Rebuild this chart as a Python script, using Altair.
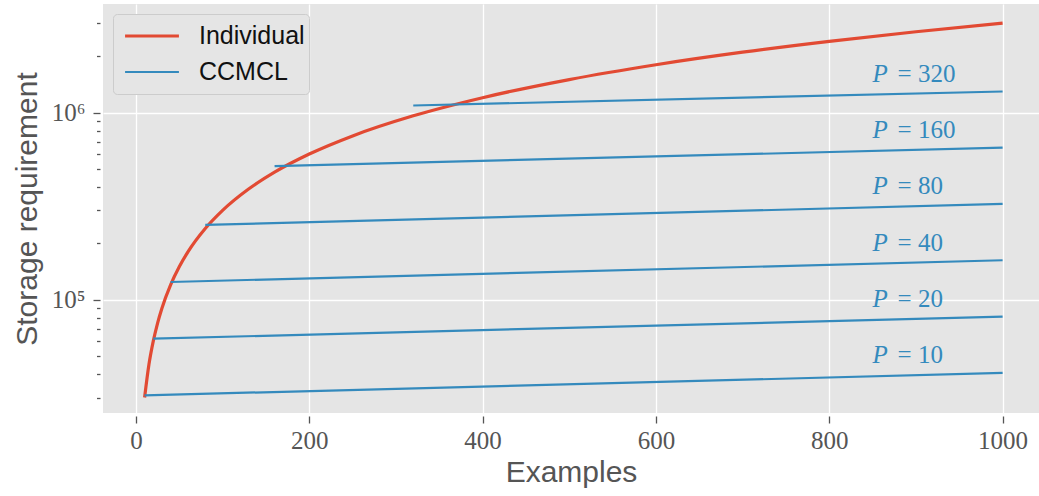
import altair as alt
import pandas as pd

# Individual storage requirement
ind_x = [10, 15, 20, 25, 30, 40, 50, 60, 80, 100, 130, 160, 200, 250, 320, 400, 500, 600, 700, 800, 900, 1000]
ind_y = [30000, 45000, 60000, 75000, 90000, 120000, 150000, 180000, 240000, 300000, 390000,
         480000, 600000, 750000, 960000, 1200000, 1500000, 1800000, 2100000, 2400000, 2700000, 3000000]

# CCMCL lines, one per P
p_values = [10, 20, 40, 80, 160, 320]
ccmcl_start_y = [30800, 61900, 124300, 251000, 517000, 1090000]
ccmcl_end_x = 1000
ccmcl_end_y = [40600, 81200, 162400, 324800, 649000, 1295000]
label_x = 850
label_y = [45600, 91200, 182500, 365000, 730000, 1460000]

series_names = ["Individual", "CCMCL"]
series_colors = ["#E24A33", "#348ABD"]

y_major = [100000, 1000000]
y_minor = [30000, 40000, 50000, 60000, 70000, 80000, 90000,
           200000, 300000, 400000, 500000, 600000, 700000, 800000, 900000,
           2000000, 3000000]
x_ticks = [0, 200, 400, 600, 800, 1000]

rows = []
for x, y in zip(ind_x, ind_y):
    rows.append({"x": x, "y": y, "series": "Individual", "grp": "ind"})
for p, y0, y1 in zip(p_values, ccmcl_start_y, ccmcl_end_y):
    rows.append({"x": p, "y": y0, "series": "CCMCL", "grp": f"P{p}"})
    rows.append({"x": ccmcl_end_x, "y": y1, "series": "CCMCL", "grp": f"P{p}"})
df = pd.DataFrame(rows)

labels = pd.DataFrame({
    "x": [label_x] * len(p_values),
    "y": label_y,
    "rest": [f"= {p}" for p in p_values],
})

xscale = alt.Scale(domain=[-38, 1042], nice=False, zero=False)
yscale = alt.Scale(type="log", domain=[24800, 3800000], nice=False)

major_test = "datum.value == 100000 || datum.value == 1000000"

xaxis = alt.Axis(values=x_ticks, format="d", title="Examples", grid=True, gridColor="white",
                 gridWidth=1.3, domain=False, tickColor="#555555", tickSize=7, tickWidth=1.3,
                 offset=3, labelFont="Liberation Serif", labelFontSize=25, labelColor="#555555",
                 labelPadding=5, titleFont="Liberation Sans", titleFontSize=30,
                 titleFontWeight="normal", titleColor="#555555", titlePadding=4)

yaxis = alt.Axis(values=y_major + y_minor, title="Storage requirement", grid=True,
                 gridColor="white", gridWidth=1.3,
                 gridOpacity={"condition": {"test": major_test, "value": 1}, "value": 0},
                 tickSize={"condition": {"test": major_test, "value": 7}, "value": 3.5},
                 domain=False, tickColor="#555555", tickWidth=1.3, offset=3,
                 labelExpr="datum.value == 100000 ? '10⁵' : (datum.value == 1000000 ? '10⁶' : '')",
                 labelFont="Liberation Serif", labelFontSize=25, labelColor="#555555",
                 labelPadding=8, titleFont="Liberation Sans", titleFontSize=30,
                 titleFontWeight="normal", titleColor="#555555", titlePadding=9)

legend_kw = dict(orient="top-left", offset=10, padding=4, symbolOffset=6,
                 symbolType="stroke", symbolSize=2900, clipHeight=36,
                 rowPadding=0, labelOffset=18,
                 labelFont="Liberation Sans", labelFontSize=25,
                 labelColor="#111111", fillColor="#E5E5E5",
                 strokeColor="#CCCCCC", cornerRadius=4)

color = alt.Color("series:N", scale=alt.Scale(domain=series_names, range=series_colors),
                  title=None, legend=alt.Legend(**legend_kw))
width_enc = alt.StrokeWidth("series:N", scale=alt.Scale(domain=series_names, range=[3.2, 2.2]),
                            title=None, legend=alt.Legend(**legend_kw))

ind_line = alt.Chart(df).transform_filter(alt.datum.series == "Individual").mark_line(
    interpolate="monotone").encode(
    x=alt.X("x:Q", scale=xscale, axis=xaxis),
    y=alt.Y("y:Q", scale=yscale, axis=yaxis),
    color=color, strokeWidth=width_enc, detail="grp:N",
)
cc_lines = alt.Chart(df).transform_filter(alt.datum.series == "CCMCL").mark_line().encode(
    x=alt.X("x:Q", scale=xscale, axis=xaxis),
    y=alt.Y("y:Q", scale=yscale, axis=yaxis),
    color=color, strokeWidth=width_enc, detail="grp:N",
)

txt_p = alt.Chart(labels).mark_text(text="P", align="left", baseline="alphabetic",
                                    font="Liberation Serif", fontStyle="italic", fontSize=25,
                                    color="#348ABD").encode(
    x=alt.X("x:Q", scale=xscale), y=alt.Y("y:Q", scale=yscale))
txt_rest = alt.Chart(labels).mark_text(align="left", baseline="alphabetic", dx=25,
                                       font="Liberation Serif", fontSize=25,
                                       color="#348ABD").encode(
    x=alt.X("x:Q", scale=xscale), y=alt.Y("y:Q", scale=yscale), text="rest:N")

chart = alt.layer(ind_line, cc_lines, txt_p, txt_rest).properties(
    width=936, height=409,
    autosize=alt.AutoSizeParams(type="none"),
    padding={"left": 103, "top": 4, "right": 0, "bottom": 83},
    background="white",
).configure_view(fill="#E5E5E5", strokeWidth=0)

chart.save("out.html", embed_options={"renderer": "svg", "actions": False})
